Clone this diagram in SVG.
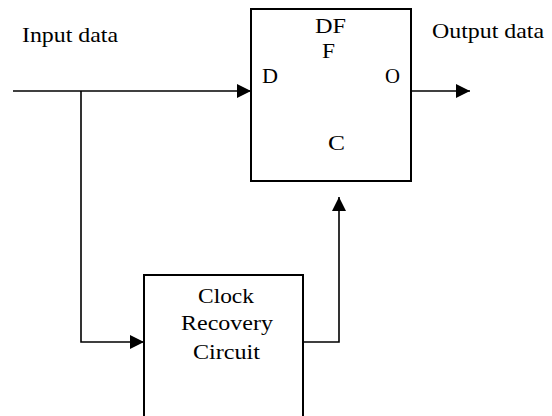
<svg xmlns="http://www.w3.org/2000/svg" width="552" height="416" viewBox="0 0 552 416">
<style>
  .box { fill: #fff; stroke: #000; stroke-width: 2; }
  .wire { fill: none; stroke: #000; stroke-width: 1.6; }
  text { font-family: "Liberation Serif", "Times New Roman", serif; font-size: 21px; fill: #000; }
</style>
<defs>
  <marker id="arr" markerUnits="userSpaceOnUse" markerWidth="16" markerHeight="16" refX="14" refY="7" orient="auto">
    <path d="M0,0 L14,7 L0,14 Z" fill="#000"/>
  </marker>
</defs>
<rect width="552" height="416" fill="#fff"/>
<g id="connectors">
  <path class="wire" d="M13,91 H251" marker-end="url(#arr)"/>
  <path class="wire" d="M81,91 V342 H144" marker-end="url(#arr)"/>
  <path class="wire" d="M303,342 H339 V197" marker-end="url(#arr)"/>
  <path class="wire" d="M411,91 H470" marker-end="url(#arr)"/>
</g>
<g id="input-label">
  <text x="22" y="42" textLength="96" lengthAdjust="spacingAndGlyphs">Input data</text>
</g>
<g id="output-label">
  <text x="432" y="37.5" textLength="112" lengthAdjust="spacingAndGlyphs">Output data</text>
</g>
<g id="dff">
  <rect class="box" x="251" y="9" width="160" height="172"/>
  <text x="315" y="33" textLength="31" lengthAdjust="spacingAndGlyphs">DF</text>
  <text x="322" y="58" textLength="13" lengthAdjust="spacingAndGlyphs">F</text>
  <text x="262" y="83" textLength="16" lengthAdjust="spacingAndGlyphs">D</text>
  <text x="385" y="83" textLength="15" lengthAdjust="spacingAndGlyphs">O</text>
  <text x="328" y="150" textLength="17" lengthAdjust="spacingAndGlyphs">C</text>
</g>
<g id="clock-recovery">
  <rect class="box" x="144" y="275" width="159" height="160"/>
  <text x="198" y="303" textLength="56" lengthAdjust="spacingAndGlyphs">Clock</text>
  <text x="181" y="330" textLength="92" lengthAdjust="spacingAndGlyphs">Recovery</text>
  <text x="193" y="359" textLength="67" lengthAdjust="spacingAndGlyphs">Circuit</text>
</g>
</svg>
